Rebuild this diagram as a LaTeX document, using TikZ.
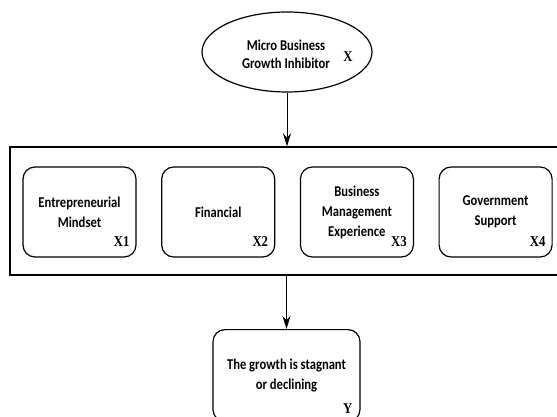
\documentclass[tikz,border=0pt]{standalone}
\usepackage{fontspec}
\setmainfont{Carlito}[FakeStretch=0.84]
\newfontfamily\labfont{Liberation Serif}[FakeStretch=0.85]
\usetikzlibrary{arrows,arrows.meta,positioning,shapes.geometric}
\tikzset{
    inhib/.style={ellipse,draw,line width=1.2pt,minimum width=170pt,minimum height=80pt,inner sep=0pt},
    factor/.style={rectangle,rounded corners=12pt,draw,line width=1.2pt,minimum width=113pt,minimum height=90pt,
        align=center,font=\fontsize{15}{20}\selectfont\bfseries},
    group/.style={rectangle,draw,line width=1.2pt,minimum width=550pt,minimum height=128pt},
    varlab/.style={font=\fontsize{15}{15}\selectfont\labfont\bfseries,inner sep=0pt},
    pre/.style={-{Stealth[length=13pt,width=8pt]},line width=1pt}
}
\begin{document}
\begin{tikzpicture}[x=1pt,y=-1pt]
    \useasboundingbox (0,0) rectangle (557,417);

    \node[inhib] (inhibitor) at (287,52) {};
    \node[align=center,font=\fontsize{15}{18}\selectfont\bfseries] (inhibtext) at (286,54) {Micro Business\\Growth Inhibitor};
    \node[varlab] (xlab) at (348,57) {X};

    \node[group] (factors) at (285,211) {};

    \node[factor] (mindset) at (79.5,212) {Entrepreneurial\\Mindset};
    \node[factor] (financial) [right=24.5pt of mindset] {Financial};
    \node[factor] (experience) [right=24.5pt of financial] {Business\\Management\\Experience};
    \node[factor] (support) [right=24.5pt of experience] {Government\\Support};

    \node[varlab,anchor=base east] (x1) at ([xshift=-7pt,yshift=11pt]mindset.south east) {X1};
    \node[varlab,anchor=base east] (x2) at ([xshift=-7pt,yshift=11pt]financial.south east) {X2};
    \node[varlab,anchor=base east] (x3) at ([xshift=-7pt,yshift=11pt]experience.south east) {X3};
    \node[varlab,anchor=base east] (x4) at ([xshift=-7pt,yshift=11pt]support.south east) {X4};

    \node[factor,minimum width=147pt,minimum height=92pt,anchor=north] (outcome) at (286.5,329)
        {The growth is stagnant\\or declining};
    \node[varlab,anchor=base east] (ylab) at ([xshift=-8pt,yshift=9pt]outcome.south east) {Y};

    \draw[pre] (inhibitor.south) -- (inhibitor.south |- factors.north);
    \draw[pre] (outcome.north |- factors.south) -- (outcome.north);

\end{tikzpicture}
\end{document}
